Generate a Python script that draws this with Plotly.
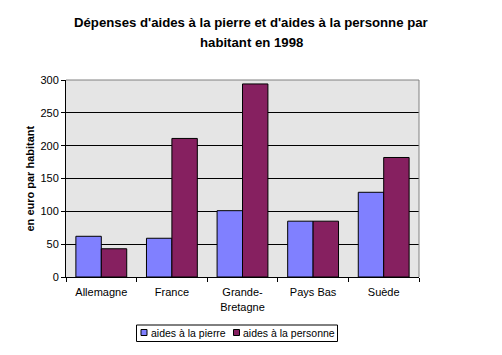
import plotly.graph_objects as go

categories = ["Allemagne", "France", "Grande-<br>Bretagne", "Pays Bas", "Suède"]
aides_pierre = [62, 59, 101, 85, 129]
aides_personne = [43, 211, 294, 85, 182]
series_names = ["aides à la pierre", "aides à la personne"]
series_colors = ["#8080FF", "#862060"]
y_ticks = [0, 50, 100, 150, 200, 250, 300]
title_lines = ["Dépenses d'aides à la pierre et d'aides à la personne par", "habitant en 1998"]
y_title = "en euro par habitant"

FONT = "Liberation Sans, Arial, sans-serif"
W, H = 502, 355
# page body has an 8px margin; plot area in reference spans x 66-419, y 80-277
OFF = 8
RL, RT, PW, PH = 66, 80, 353, 197
L, T = RL - OFF, RT - OFF
R, B = W - L - PW, H - T - PH


def px(x):
    return (x - RL) / PW


def py(y):
    return (RT + PH - y) / PH


fig = go.Figure()
for vals, name, col in zip([aides_pierre, aides_personne], series_names, series_colors):
    fig.add_trace(go.Bar(x=categories, y=vals, name=name, showlegend=False,
                         marker=dict(color=col, line=dict(color="black", width=1))))

fig.update_layout(
    width=W, height=H,
    margin=dict(l=L, r=R, t=T, b=B, autoexpand=False),
    paper_bgcolor="white", plot_bgcolor="#E5E5E5",
    barmode="group", bargap=0.28, bargroupgap=0,
    font=dict(family=FONT, size=11, color="black"),
    showlegend=False,
    xaxis=dict(showline=True, linecolor="black", linewidth=1, automargin=False,
               ticks="outside", ticklen=4, tickcolor="black", tickson="boundaries",
               ticklabelstandoff=5,
               showgrid=False, tickfont=dict(family=FONT, size=11)),
    yaxis=dict(range=[0, 300], tickvals=y_ticks, showline=True, linecolor="black", linewidth=1,
               automargin=False, ticks="outside", ticklen=4, tickcolor="black",
               showgrid=True, gridcolor="black", gridwidth=1, zeroline=False,
               tickfont=dict(family=FONT, size=11)),
)

# grey top/right border
fig.add_shape(type="path", xref="paper", yref="paper",
              path="M 0,1 L 1,1 L 1,0", line=dict(color="#808080", width=1), layer="above")

# title (two lines)
for i, line in enumerate(title_lines):
    fig.add_annotation(text="<b>" + line + "</b>",
                       xref="paper", yref="paper", x=px(251), y=py(22 + 20 * i),
                       xanchor="center", yanchor="middle", showarrow=False,
                       font=dict(family=FONT, size=13.2, color="black"))

# y axis title
fig.add_annotation(text="<b>" + y_title + "</b>", textangle=-90,
                   xref="paper", yref="paper", x=px(29), y=0.5,
                   xanchor="center", yanchor="middle", showarrow=False,
                   font=dict(family=FONT, size=11, color="black"))

# manual legend
fig.add_shape(type="rect", xref="paper", yref="paper",
              x0=px(136.5), x1=px(337.5), y0=py(341.5), y1=py(325),
              line=dict(color="black", width=1), fillcolor="white")
sq_x = [141, 233.5]
for sx, name, col in zip(sq_x, series_names, series_colors):
    fig.add_shape(type="rect", xref="paper", yref="paper",
                  x0=px(sx), x1=px(sx + 6), y0=py(335.5), y1=py(329.5),
                  line=dict(color="black", width=1), fillcolor=col)
    fig.add_annotation(text=name, xref="paper", yref="paper",
                       x=px(sx + 7.5), y=py(333), xanchor="left", yanchor="middle",
                       showarrow=False, font=dict(family=FONT, size=10.5, color="black"))

fig.write_html("out.html")
